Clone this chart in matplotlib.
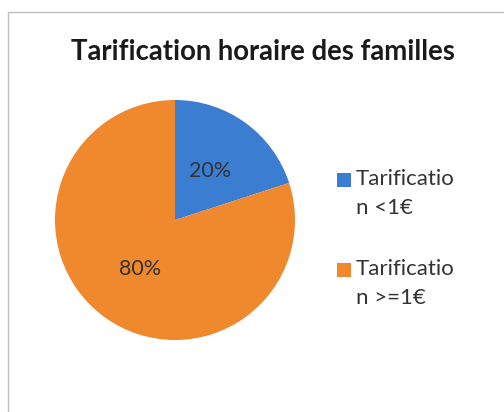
import matplotlib
matplotlib.use("Agg")
import matplotlib.pyplot as plt
from matplotlib.patches import Rectangle

categories = ["Tarificatio\nn <1€", "Tarificatio\nn >=1€"]
values = [20, 80]
colors = ["#3b7ed1", "#f0892e"]
title = "Tarification horaire des familles"

W, H = 504, 412
fig = plt.figure(figsize=(W / 100, H / 100), dpi=100)
fig.patch.set_facecolor("white")
plt.rcParams['font.family'] = ['Lato', 'DejaVu Sans']

# chart border (scanned frame)
fig.patches.append(Rectangle((8 / W, -0.1), 1.2, (H - 12) / H + 0.1, transform=fig.transFigure,
                             fill=False, edgecolor="#bdbdbd", linewidth=1.0, zorder=0))

ax = fig.add_axes([55 / W, (H - 340) / H, 240 / W, 240 / H])
wedges, texts, autotexts = ax.pie(values, colors=colors, startangle=90, counterclock=False,
                                  autopct='%1.0f%%', pctdistance=0.5,
                                  textprops=dict(color="#333333", fontsize=15.5))
ax.set_aspect('equal')
ax.set_xlim(-1, 1)
ax.set_ylim(-1, 1)

fig.text(263 / W, 1 - 52 / H, title, ha='center', va='center', fontsize=19.8,
         fontweight='bold', color="#1a1a1a")

# legend drawn manually for exact line spacing
sq_tops = [173, 263]
for i, (lab, col) in enumerate(zip(categories, colors)):
    top = sq_tops[i]
    fig.patches.append(Rectangle((337 / W, 1 - (top + 14) / H), 14 / W, 14 / H,
                                 transform=fig.transFigure, facecolor=col, edgecolor='none'))
    for j, line in enumerate(lab.split("\n")):
        fig.text(356 / W, 1 - (top + 12 + 29 * j) / H, line, ha='left', va='baseline',
                 fontsize=16, color="#333333")

fig.savefig("out.png", dpi=100)
